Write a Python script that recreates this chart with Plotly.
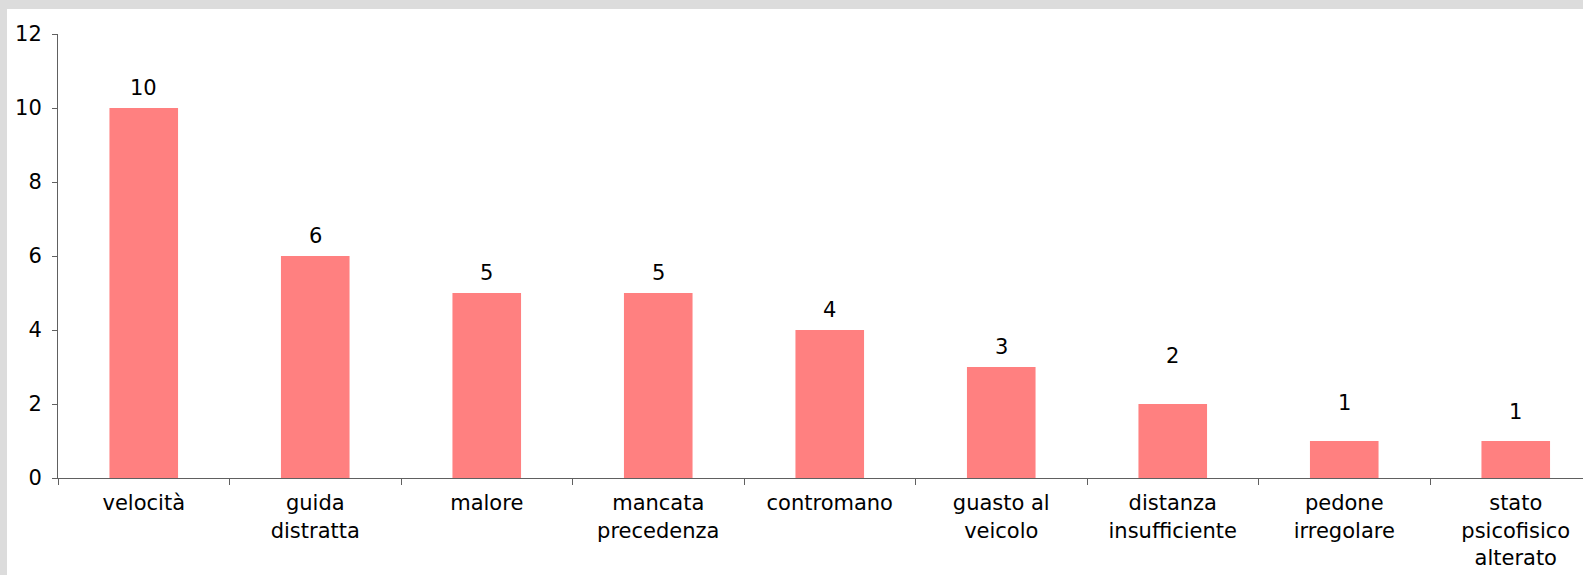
import plotly.graph_objects as go

categories = ["velocità", "guida<br>distratta", "malore", "mancata<br>precedenza",
              "contromano", "guasto al<br>veicolo", "distanza<br>insufficiente",
              "pedone<br>irregolare", "stato<br>psicofisico<br>alterato"]
values = [10, 6, 5, 5, 4, 3, 2, 1, 1]
y_ticks = [0, 2, 4, 6, 8, 10, 12]

# label vertical offsets (style only, px above the bar top)
label_shift = [20, 20, 20, 20, 20, 20, 48, 38, 29]

W, H = 1583, 575
L, R, T, B = 58, 0, 34, 97
pw, ph = W - L - R, H - T - B
cat_w = 171.5
xmax = pw / cat_w - 0.5

font = "DejaVu Sans, Verdana, sans-serif"
FS = 21

fig = go.Figure()
fig.add_trace(go.Bar(
    x=categories, y=values,
    width=0.4, marker=dict(color="#FF8080", line=dict(width=0)),
    hoverinfo="skip",
))

for c, v, s in zip(categories, values, label_shift):
    fig.add_annotation(x=c, y=v, text=str(v), showarrow=False,
                       yshift=s, yanchor="middle",
                       font=dict(family=font, size=FS, color="black"))

def px_x(p):
    return (p - L) / pw

def px_y(p):
    return (H - B - p) / ph

gray = "#DCDCDC"
fig.add_shape(type="rect", xref="paper", yref="paper",
              x0=px_x(0), x1=px_x(W + 5), y0=px_y(9), y1=px_y(-5),
              fillcolor=gray, line=dict(width=0), layer="above")
fig.add_shape(type="rect", xref="paper", yref="paper",
              x0=px_x(-5), x1=px_x(7), y0=px_y(H + 5), y1=px_y(-5),
              fillcolor=gray, line=dict(width=0), layer="above")

fig.update_layout(
    width=W, height=H,
    margin=dict(l=L, r=R, t=T, b=B, pad=0, autoexpand=False),
    paper_bgcolor="white", plot_bgcolor="white",
    showlegend=False,
    font=dict(family=font, size=FS, color="black"),
    xaxis=dict(
        type="category",
        categoryorder="array", categoryarray=categories,
        range=[-0.5, xmax],
        automargin=False,
        tickson="boundaries",
        ticks="outside", ticklen=6, tickcolor="#606060",
        ticklabelstandoff=6,
        showline=True, linecolor="#606060", linewidth=1,
        showgrid=False, zeroline=False,
        tickfont=dict(family=font, size=FS, color="black"),
    ),
    yaxis=dict(
        range=[0, 12],
        automargin=False,
        tickmode="array", tickvals=y_ticks,
        ticks="outside", ticklen=5, tickcolor="#606060",
        ticklabelstandoff=6,
        showline=True, linecolor="#606060", linewidth=1,
        showgrid=False, zeroline=False,
        tickfont=dict(family=font, size=FS, color="black"),
    ),
)

fig.write_html("out.html", config={"displayModeBar": False},
               post_script="document.body.style.margin='0';document.body.style.overflow='hidden';")
